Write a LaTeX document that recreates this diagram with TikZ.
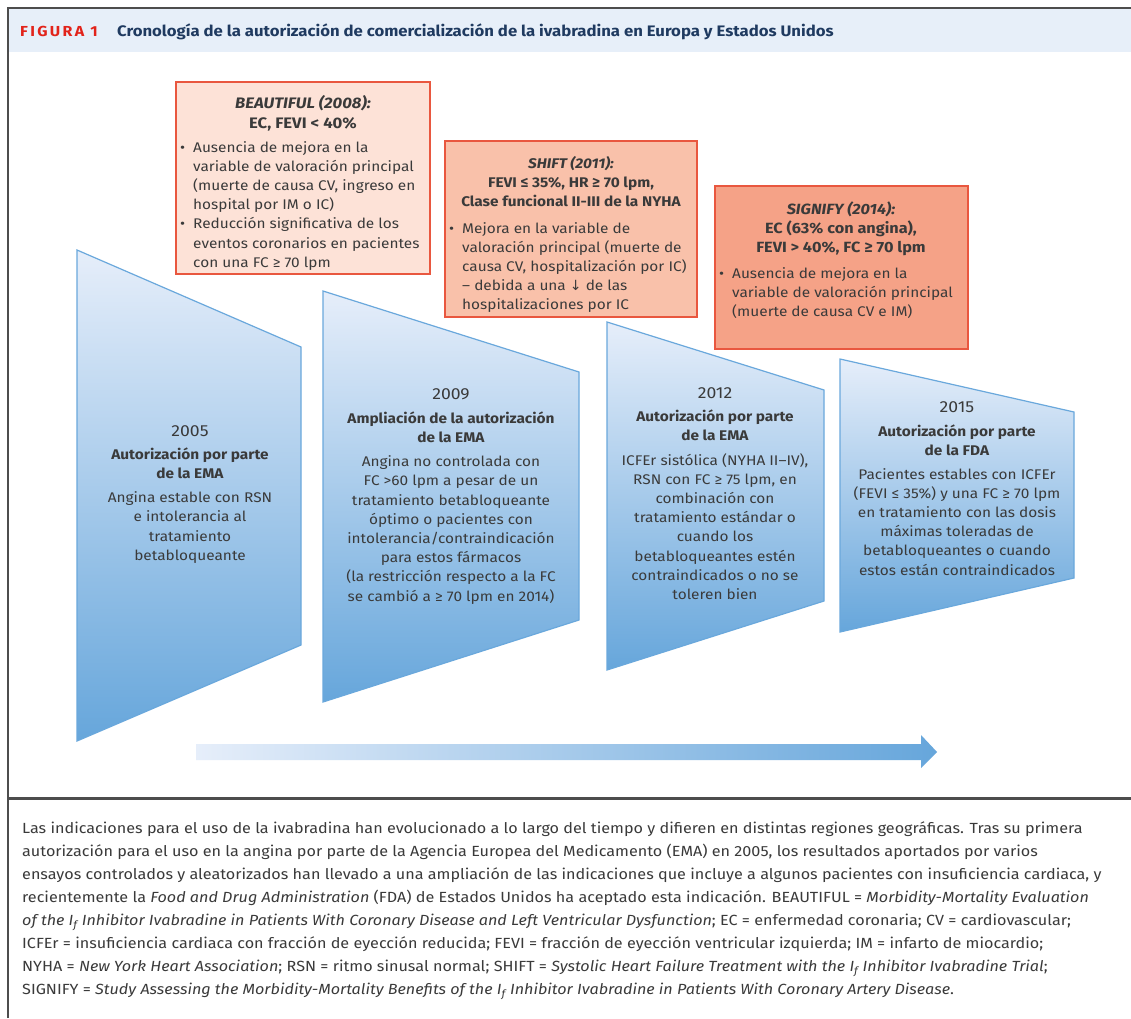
\documentclass[tikz,border=0pt]{standalone}
\usepackage{fontspec}
\setmainfont{Fira Sans}[FakeStretch=1.1]
\newfontfamily\figfont{Fira Sans}[FakeStretch=1.1,LetterSpace=16]
\newfontfamily\dejavu{DejaVu Sans}
\definecolor{figred}{HTML}{E2231A}
\definecolor{navy}{HTML}{1F3A60}
\definecolor{txtgray}{HTML}{3A3A3A}
\definecolor{boxline}{HTML}{E9573F}
\definecolor{bfillA}{HTML}{FDE2D7}
\definecolor{bfillB}{HTML}{F9C1AA}
\definecolor{bfillC}{HTML}{F5A287}
\definecolor{trline}{HTML}{6AA8DC}
\definecolor{trtop}{HTML}{E6EEFA}
\definecolor{trbot}{HTML}{66A6DB}
\definecolor{hdrfill}{HTML}{E7EFF9}
\definecolor{framecol}{HTML}{4D4D4D}
\newcommand{\bul}{\makebox[13pt][l]{•}}
\newcommand{\ind}{\hspace*{13pt}}
\newcommand{\If}{I\textsubscript{f}}
\newcommand{\yr}[1]{{\fontsize{16}{19}\selectfont #1}}
\begin{document}
\begin{tikzpicture}[x=1pt,y=-1pt,
  txt/.style={text=txtgray,font=\fontsize{14}{19.2}\selectfont,inner sep=0pt},
  traptxt/.style={txt,align=center,anchor=north},
  trap/.style={draw=trline,line width=1.2pt,top color=trtop,bottom color=trbot},
  trialbox/.style={draw=boxline,line width=1.3pt},
  boxtitle/.style={txt,align=center,anchor=north,font=\fontsize{14}{19.5}\selectfont\bfseries},
  boxlist/.style={txt,align=left,anchor=north west}]
\useasboundingbox (0,0) rectangle (1131,1018);
\fill[white] (0,0) rectangle (1131,1018);
% frame and header
\fill[hdrfill] (9,9) rectangle (1131,52);
\draw[framecol,line width=2pt] (8,1018) -- (8,8) -- (1131,8);
\draw[framecol,line width=3pt] (8,798) -- (1131,798);
\node[anchor=base west,inner sep=0pt,text=figred,font=\fontsize{14.5}{17}\figfont\bfseries] (fig) at (20,36) {FIGURA 1};
\node[anchor=base west,inner sep=0pt,text=navy,font=\fontsize{15.2}{17}\selectfont\bfseries] (title) at (117,36) {Cronología de la autorización de comercialización de la ivabradina en Europa y Estados Unidos};
% trapezoids
\draw[trap] (77,250) -- (301,347) -- (301,645) -- (77,741) -- cycle;
\draw[trap] (323,291) -- (579,372) -- (579,620) -- (323,702) -- cycle;
\draw[trap] (607,322) -- (824,390) -- (824,601) -- (607,670) -- cycle;
\draw[trap] (840,359) -- (1074,412) -- (1074,578) -- (840,632) -- cycle;
\node[traptxt] (t2005) at (190,425) {\yr{2005}\\[4.5pt]
  \textbf{Autorización por parte}\\ \textbf{de la EMA}\\[4.5pt]
  Angina estable con RSN\\ e intolerancia al\\ tratamiento\\ betabloqueante};
\node[traptxt] (t2009) at (451,388) {\yr{2009}\\[5pt]
  \textbf{Ampliación de la autorización}\\ \textbf{de la EMA}\\[5pt]
  Angina no controlada con\\ FC >60 lpm a pesar de un\\ tratamiento betabloqueante\\ óptimo o pacientes con\\ intolerancia/contraindicación\\ para estos fármacos\\ (la restricción respecto a la FC\\ se cambió a ≥ 70 lpm en 2014)};
\node[traptxt] (t2012) at (715,387) {\yr{2012}\\[4.5pt]
  \textbf{Autorización por parte}\\ \textbf{de la EMA}\\[5pt]
  ICFEr sistólica (NYHA II–IV),\\ RSN con FC ≥ 75 lpm, en\\ combinación con\\ tratamiento estándar o\\ cuando los\\ betabloqueantes estén\\ contraindicados o no se\\ toleren bien};
\node[traptxt] (t2015) at (957,401) {\yr{2015}\\[5pt]
  \textbf{Autorización por parte}\\ \textbf{de la FDA}\\[4.5pt]
  Pacientes estables con ICFEr\\ (FEVI ≤ 35\%) y una FC ≥ 70 lpm\\ en tratamiento con las dosis\\ máximas toleradas de\\ betabloqueantes o cuando\\ estos están contraindicados};
% trial boxes
\draw[trialbox,fill=bfillA] (176,82) rectangle (430,274);
\node[boxtitle,font=\fontsize{15.2}{20}\selectfont\bfseries] (beauT) at (303,95) {\textit{BEAUTIFUL (2008):}\\ EC, FEVI < 40\%};
\node[boxlist] (beauL) at (180,141) {\bul Ausencia de mejora en la\\ \ind variable de valoración principal\\ \ind (muerte de causa CV, ingreso en\\ \ind hospital por IM o IC)\\ \bul Reducción significativa de los\\ \ind eventos coronarios en pacientes\\ \ind con una FC ≥ 70 lpm};
\draw[trialbox,fill=bfillB] (445,141) rectangle (697,317);
\node[boxtitle,font=\fontsize{14}{19}\selectfont\bfseries] (shiftT) at (571,156) {\textit{SHIFT (2011):}\\ FEVI ≤ 35\%, HR ≥ 70 lpm,\\ Clase funcional II-III de la NYHA};
\node[boxlist] (shiftL) at (449,222) {\bul Mejora en la variable de\\ \ind valoración principal (muerte de\\ \ind causa CV, hospitalización por IC)\\ \ind – debida a una {\dejavu ↓} de las\\ \ind hospitalizaciones por IC};
\draw[trialbox,fill=bfillC] (715,186) rectangle (968,349);
\node[boxtitle,font=\fontsize{14.8}{19}\selectfont\bfseries] (sigT) at (841,201.5) {\textit{SIGNIFY (2014):}\\ EC (63\% con angina),\\ FEVI > 40\%, FC ≥ 70 lpm};
\node[boxlist] (sigL) at (719,267) {\bul Ausencia de mejora en la\\ \ind variable de valoración principal\\ \ind (muerte de causa CV e IM)};
% timeline arrow
\shade[left color=trtop,right color=trbot] (196,744) -- (921,744) -- (921,735) -- (937,752) -- (921,768) -- (921,760) -- (196,760) -- cycle;
% caption
\node[txt,align=left,anchor=north west,font=\fontsize{14.7}{23}\selectfont] (cap) at (22,821.5) {Las indicaciones para el uso de la ivabradina han evolucionado a lo largo del tiempo y difieren en distintas regiones geográficas. Tras su primera\\
autorización para el uso en la angina por parte de la Agencia Europea del Medicamento (EMA) en 2005, los resultados aportados por varios\\
ensayos controlados y aleatorizados han llevado a una ampliación de las indicaciones que incluye a algunos pacientes con insuficiencia cardiaca, y\\
recientemente la \textit{Food and Drug Administration} (FDA) de Estados Unidos ha aceptado esta indicación. BEAUTIFUL = \textit{Morbidity-Mortality Evaluation}\\
\textit{of the \If{} Inhibitor Ivabradine in Patients With Coronary Disease and Left Ventricular Dysfunction}; EC = enfermedad coronaria; CV = cardiovascular;\\
ICFEr = insuficiencia cardiaca con fracción de eyección reducida; FEVI = fracción de eyección ventricular izquierda; IM = infarto de miocardio;\\
NYHA = \textit{New York Heart Association}; RSN = ritmo sinusal normal; SHIFT = \textit{Systolic Heart Failure Treatment with the \If{} Inhibitor Ivabradine Trial};\\
SIGNIFY = \textit{Study Assessing the Morbidity-Mortality Benefits of the \If{} Inhibitor Ivabradine in Patients With Coronary Artery Disease}.};
\end{tikzpicture}
\end{document}
